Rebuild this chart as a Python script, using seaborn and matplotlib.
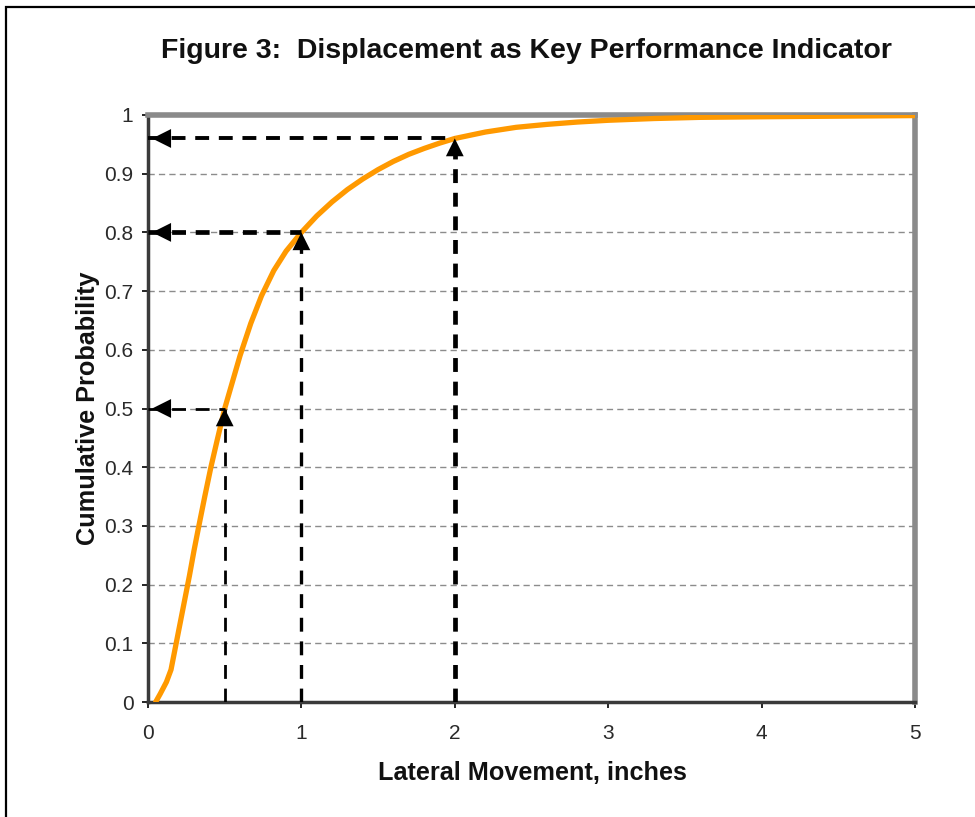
import numpy as np
import pandas as pd
import seaborn as sns
import matplotlib.pyplot as plt
from matplotlib.patches import Rectangle

# values
movement = [0.05, 0.08, 0.10, 0.12, 0.15, 0.18, 0.21, 0.24, 0.27, 0.30, 0.33,
            0.37, 0.41, 0.45, 0.50, 0.55, 0.60, 0.67, 0.74, 0.82, 0.90, 1.00,
            1.10, 1.20, 1.30, 1.40, 1.50, 1.60, 1.70, 1.80, 1.90, 2.00, 2.20,
            2.40, 2.60, 2.80, 3.00, 3.30, 3.60, 4.00, 4.50, 5.00]
probability = [0.000, 0.014, 0.024, 0.034, 0.055, 0.095, 0.135, 0.175, 0.215, 0.258, 0.298,
               0.350, 0.400, 0.445, 0.500, 0.545, 0.590, 0.645, 0.692, 0.735, 0.768, 0.800,
               0.828, 0.852, 0.873, 0.891, 0.907, 0.921, 0.933, 0.943, 0.952, 0.960, 0.971,
               0.979, 0.984, 0.988, 0.991, 0.994, 0.996, 0.997, 0.998, 0.999]

# key performance points marked with arrows
key_x = [0.5, 1.0, 2.0]
key_p = [0.5, 0.8, 0.96]

x_ticks = [0, 1, 2, 3, 4, 5]
y_ticks = [0, 0.1, 0.2, 0.3, 0.4, 0.5, 0.6, 0.7, 0.8, 0.9, 1]
y_ticklabels = ['0', '0.1', '0.2', '0.3', '0.4', '0.5', '0.6', '0.7', '0.8', '0.9', '1']

df = pd.DataFrame({'movement': movement, 'probability': probability})

sns.set_theme(style='white')
plt.rcParams['font.family'] = ['Liberation Sans', 'DejaVu Sans']
plt.rcParams['lines.scale_dashes'] = False

fig = plt.figure(figsize=(9.75, 8.17), dpi=100)
ax = fig.add_axes([148 / 975, 1 - 702 / 817, (915 - 148) / 975, (702 - 115) / 817])

sns.lineplot(data=df, x='movement', y='probability', ax=ax, color='#FF9900',
             lw=3.8, zorder=3, solid_capstyle='round', solid_joinstyle='round')

# dashed guide lines with arrowheads
h_widths = [2.0, 3.4, 2.8]
v_widths = [2.0, 2.4, 3.4]
for xk, pk, hw, vw in zip(key_x, key_p, h_widths, v_widths):
    ax.plot([0, xk], [pk, pk], color='black', lw=hw, dashes=(10, 7), zorder=4)
    ax.plot([xk, xk], [0, pk], color='black', lw=vw, dashes=(10, 7), zorder=4)
    ax.annotate('', xy=(0, pk), xytext=(22, 0), textcoords='offset points',
                arrowprops=dict(arrowstyle='-|>', mutation_scale=34, lw=0,
                                color='black', shrinkA=0, shrinkB=3), zorder=5)
    ax.annotate('', xy=(xk, pk), xytext=(0, -22), textcoords='offset points',
                arrowprops=dict(arrowstyle='-|>', mutation_scale=32, lw=0,
                                color='black', shrinkA=0, shrinkB=0), zorder=5)

ax.set_xlim(0, 5)
ax.set_ylim(0, 1)
ax.set_xticks(x_ticks)
ax.set_xticklabels([str(t) for t in x_ticks])
ax.set_yticks(y_ticks)
ax.set_yticklabels(y_ticklabels)
ax.yaxis.grid(True, color='#8c8c8c', lw=1, dashes=(4.5, 3))
ax.xaxis.grid(False)
ax.set_axisbelow(True)
ax.tick_params(axis='both', direction='out', length=4.5, width=1.2, color='black',
               labelsize=15, labelcolor='#2a2a2a', left=True, bottom=True)
ax.tick_params(axis='y', pad=6)
ax.tick_params(axis='x', pad=11)
ax.set_xlabel('')
ax.set_ylabel('')

for side in ['top', 'right']:
    ax.spines[side].set_color('#8a8a8a')
    ax.spines[side].set_linewidth(4)
for side in ['left', 'bottom']:
    ax.spines[side].set_color('#3a3a3a')
    ax.spines[side].set_linewidth(2.5)

fig.text(526 / 975, 1 - 51 / 817, 'Figure 3:  Displacement as Key Performance Indicator',
         ha='center', va='center', fontsize=20.5, fontweight='bold', color='#111111')
fig.text(532 / 975, 1 - 773 / 817, 'Lateral Movement, inches',
         ha='center', va='center', fontsize=18.2, fontweight='bold', color='#111111')
fig.text(88 / 975, 1 - 408 / 817, 'Cumulative Probability', rotation=90,
         ha='center', va='center', fontsize=18.2, fontweight='bold', color='#111111')

# outer frame of the figure
fig.patches.append(Rectangle((6 / 975, -0.1), 1.2, 1.1 - 7 / 817, transform=fig.transFigure,
                             fill=False, edgecolor='black', lw=1.6, clip_on=False))

fig.savefig('out.png', dpi=100)
